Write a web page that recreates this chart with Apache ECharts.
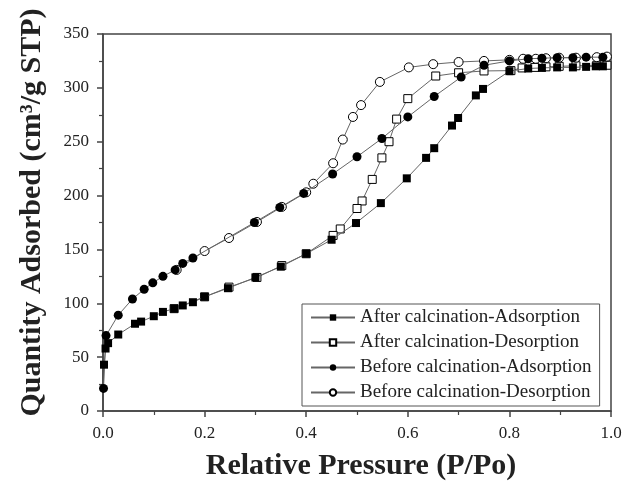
<!DOCTYPE html>
<html>
<head>
<meta charset="utf-8">
<script src="https://cdn.jsdelivr.net/npm/echarts@6/dist/echarts.min.js"></script>
<style>html,body{margin:0;padding:0;background:#fff;}#c{width:634px;height:487px;}</style>
</head>
<body>
<div id="c"></div>
<script>
const seriesNames = ['After calcination-Adsorption','After calcination-Desorption','Before calcination-Adsorption','Before calcination-Desorption'];
const xTicks = [0.0,0.2,0.4,0.6,0.8,1.0];
const yTicks = [0,50,100,150,200,250,300,350];

const afterAds = [[0.002,43],[0.005,58],[0.01,63],[0.03,71],[0.063,81],[0.075,83],[0.1,88],[0.118,92],[0.14,95],[0.157,98],[0.177,101],[0.2,106],[0.246,114],[0.3,124],[0.35,134],[0.4,146],[0.45,159],[0.498,174.5],[0.547,193],[0.598,216],[0.636,235],[0.652,244],[0.687,265],[0.699,272],[0.734,293],[0.748,299],[0.8,315.5],[0.837,318],[0.864,318.5],[0.894,319],[0.925,319],[0.951,319.5],[0.97,320],[0.984,320]];
const afterDes = [[0.992,321],[0.972,321],[0.931,320.5],[0.898,320],[0.872,319.5],[0.85,319],[0.825,318.5],[0.803,316],[0.75,315.7],[0.7,314],[0.655,311],[0.6,290],[0.578,271],[0.563,250],[0.549,235],[0.53,215],[0.51,195],[0.5,188],[0.467,169],[0.453,163],[0.4,146],[0.352,135],[0.303,124],[0.248,115],[0.2,106],[0.14,95]];
const beforeAds = [[0.001,21],[0.006,70],[0.03,89],[0.058,104],[0.081,113],[0.098,119],[0.118,125],[0.142,131],[0.157,137],[0.177,142],[0.298,175],[0.348,189],[0.395,202],[0.452,220],[0.5,236],[0.549,253],[0.6,273],[0.652,292],[0.705,310],[0.75,321],[0.8,325],[0.837,327],[0.864,327.5],[0.894,328],[0.925,328],[0.951,328.5],[0.984,328.5]];
const beforeDes = [[0.992,329],[0.972,328.5],[0.931,328],[0.898,328],[0.872,327.5],[0.852,327],[0.827,327],[0.8,326],[0.75,325],[0.7,324],[0.65,322],[0.602,319],[0.545,305.5],[0.508,284],[0.492,273],[0.472,252],[0.453,230],[0.414,211],[0.4,203],[0.352,189.5],[0.303,175.5],[0.248,160.6],[0.2,148.5],[0.145,131]];

const serif = '"Liberation Serif", "DejaVu Serif", serif';
function mk(name, data, symbol, filled) {
  return {
    name: name, type: 'line', data: data, symbol: symbol, symbolSize: symbol === 'rect' ? 8 : 9,
    showSymbol: true, animation: false,
    lineStyle: {color: '#666', width: 1},
    itemStyle: {color: filled ? '#000' : '#fff', borderColor: '#000', borderWidth: filled ? 0 : 1},
    z: filled ? 3 : 2
  };
}
const chart = echarts.init(document.getElementById('c'), null, {renderer: 'canvas'});
chart.setOption({
  backgroundColor: '#fff',
  animation: false,
  grid: {left: 103, right: 23, top: 34, bottom: 76, containLabel: false, outerBoundsMode: 'none', show: true, borderColor: '#444', borderWidth: 1.5, backgroundColor: 'transparent'},
  legend: {
    orient: 'vertical', left: 302, top: 304,
    data: seriesNames,
    itemWidth: 44, itemHeight: 8, itemGap: 6,
    padding: [4, 8, 4, 8],
    borderColor: '#555', borderWidth: 1, borderRadius: 0,
    textStyle: {fontFamily: serif, fontSize: 19, color: '#222'}
  },
  xAxis: {
    type: 'value', min: 0, max: 1, interval: 0.2,
    name: 'Relative Pressure (P/Po)', nameLocation: 'middle', nameGap: 40,
    nameTextStyle: {fontFamily: serif, fontWeight: 'bold', fontSize: 30, color: '#222', padding: [0, 0, 0, 8]},
    axisLine: {show: true, lineStyle: {color: '#444', width: 1.5}},
    axisTick: {show: true, inside: false, length: 6, lineStyle: {color: '#444', width: 1.5}},
    minorTick: {show: true, splitNumber: 2, length: 4, lineStyle: {color: '#444', width: 1.2}},
    axisLabel: {fontFamily: serif, fontSize: 17, color: '#222', margin: 14, formatter: v => v.toFixed(1)},
    splitLine: {show: false}
  },
  yAxis: {
    type: 'value', min: 0, max: 350, interval: 50,
    name: 'Quantity Adsorbed (cm\u00B3/g STP)', nameLocation: 'middle', nameGap: 56, nameRotate: 90,
    nameTextStyle: {fontFamily: serif, fontWeight: 'bold', fontSize: 30, color: '#222', padding: [0, 0, 0, 20]},
    axisLine: {show: true, lineStyle: {color: '#444', width: 1.5}},
    axisTick: {show: true, inside: false, length: 6, lineStyle: {color: '#444', width: 1.5}},
    minorTick: {show: true, splitNumber: 2, length: 4, lineStyle: {color: '#444', width: 1.2}},
    axisLabel: {fontFamily: serif, fontSize: 17, color: '#222', margin: 14},
    splitLine: {show: false}
  },
  series: [
    mk(seriesNames[0], afterAds, 'rect', true),
    mk(seriesNames[1], afterDes, 'rect', false),
    mk(seriesNames[2], beforeAds, 'circle', true),
    mk(seriesNames[3], beforeDes, 'circle', false)
  ]
});
</script>
</body>
</html>
